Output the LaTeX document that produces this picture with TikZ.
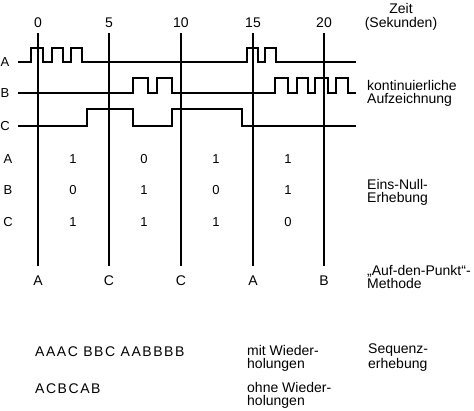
\documentclass[tikz,border=0pt]{standalone}
\usepackage{fontspec}
\setmainfont{Liberation Sans}
\begin{document}
\begin{tikzpicture}[x=1pt,y=-1pt,
  lab/.style={font=\fontsize{13}{13}\selectfont, inner sep=0pt, anchor=base},
  txt/.style={font=\fontsize{14}{13}\selectfont, inner sep=0pt, anchor=base west, align=left},
  seqtxt/.style={font=\fontsize{14}{14}\selectfont\addfontfeature{LetterSpace=11}, inner sep=0pt, anchor=base west},
  sig/.style={line width=1.3pt, line join=miter},
  gridline/.style={line width=1.5pt}]
\useasboundingbox (0,0) rectangle (474,410);
% time axis labels
\foreach \x/\t/\n in {38/0/a,109/5/b,181/10/c,253/15/d,324/20/e}{
  \node[lab, font=\fontsize{14}{14}\selectfont] (t\n) at (\x,27) {\t};
  \coordinate (vt\n) at (\x,33);
  \coordinate (vb\n) at (\x,266);
  \draw[gridline] (vt\n) -- (vb\n);
}
\node[lab, align=center, font=\fontsize{14}{14}\selectfont] (zeit) at (401,27) {Zeit\\(Sekunden)};
% signal labels
\node[lab] (sA) at (5,66) {A};
\node[lab] (sB) at (5,97) {B};
\node[lab] (sC) at (5,130) {C};
% waveforms
\draw[sig] (18,62) -- (31,62) -- (31,48) -- (43,48) -- (43,62) -- (52,62) -- (52,48) -- (63,48) -- (63,62) -- (71,62) -- (71,48) -- (82,48) -- (82,62) -- (247,62) -- (247,48) -- (258,48) -- (258,62) -- (265,62) -- (265,48) -- (276,48) -- (276,62) -- (356,62);
\draw[sig] (18,93) -- (133,93) -- (133,78) -- (148,78) -- (148,93) -- (157,93) -- (157,78) -- (172,78) -- (172,93) -- (275,93) -- (275,78) -- (288,78) -- (288,93) -- (297,93) -- (297,78) -- (308,78) -- (308,93) -- (315,93) -- (315,78) -- (328,78) -- (328,93) -- (336,93) -- (336,78) -- (348,78) -- (348,93) -- (356,93);
\draw[sig] (18,126) -- (87,126) -- (87,109) -- (133,109) -- (133,126) -- (172,126) -- (172,109) -- (242,109) -- (242,126) -- (356,126);
\node[txt] (kont) at (367,103) {kontinuierliche\\Aufzeichnung};
% table
\node[lab] (rA) at (8,163.5) {A};
\node[lab] (rB) at (8,194.5) {B};
\node[lab] (rC) at (8,226.5) {C};
\foreach \x/\a/\b/\c/\n in {73/1/0/1/a,144/0/1/1/b,216/1/0/1/c,288/1/1/0/d}{
  \node[lab] (va\n) at (\x,163.5) {\a};
  \node[lab] (vb\n) at (\x,194.5) {\b};
  \node[lab] (vc\n) at (\x,226.5) {\c};
}
\node[txt] (eins) at (367,202) {Eins-Null-\\Erhebung};
% point method
\foreach \x/\l/\n in {38/A/a,109/C/b,181/C/c,253/A/d,324/B/e}{
  \node[lab, font=\fontsize{14}{14}\selectfont] (p\n) at (\x,285) {\l};
}
\node[txt] (punkt) at (367,288) {„Auf-den-Punkt“-\\Methode};
% sequences
\node[seqtxt] (seq1) at (35,356) {AAAC BBC AABBBB};
\node[seqtxt] (seq2) at (35,393) {ACBCAB};
\node[txt] (mit) at (247,368) {mit Wieder-\\holungen};
\node[txt] (ohne) at (247,405) {ohne Wieder-\\holungen};
\node[txt] (sequ) at (368,368) {Sequenz-\\erhebung};
\end{tikzpicture}
\end{document}
